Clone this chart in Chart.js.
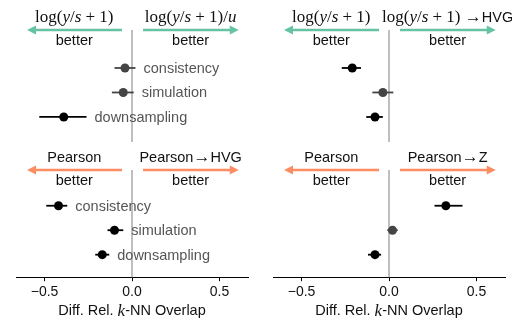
<!DOCTYPE html>
<html>
<head>
<meta charset="utf-8">
<script src="https://cdn.jsdelivr.net/npm/chart.js@4.4.1/dist/chart.umd.min.js"></script>
<style>
  body { margin: 0; background: #fff; }
  #wrap { position: relative; width: 512px; height: 320px; }
  canvas { position: absolute; }
</style>
</head>
<body>
<div id="wrap">
  <canvas id="tl" width="256" height="145" style="left:0;top:0"></canvas>
  <canvas id="tr" width="256" height="145" style="left:256px;top:0"></canvas>
  <canvas id="bl" width="256" height="175" style="left:0;top:145px"></canvas>
  <canvas id="br" width="256" height="175" style="left:256px;top:145px"></canvas>
</div>
<script>
// datasets: one row per benchmark
const rows = ['consistency', 'simulation', 'downsampling'];
const xTicks = [-0.5, 0, 0.5];

// log(y/s+1) vs log(y/s+1)/u
const tlMean = [-0.04, -0.05, -0.39];
const tlLo = [-0.10, -0.115, -0.53];
const tlHi = [0.02, 0.01, -0.26];
const tlSig = [false, false, true];

// log(y/s+1) vs log(y/s+1) -> HVG
const trMean = [-0.21, -0.035, -0.08];
const trLo = [-0.27, -0.095, -0.13];
const trHi = [-0.16, 0.025, -0.035];
const trSig = [true, false, true];

// Pearson vs Pearson -> HVG
const blMean = [-0.42, -0.10, -0.17];
const blLo = [-0.49, -0.14, -0.21];
const blHi = [-0.37, -0.05, -0.13];
const blSig = [true, true, true];

// Pearson vs Pearson -> Z
const brMean = [0.325, 0.02, -0.08];
const brLo = [0.26, -0.01, -0.12];
const brHi = [0.42, 0.05, -0.045];
const brSig = [true, false, true];

const GREEN = '#66c2a5', ORANGE = '#fc8d62';
const SANS = '14.5px "Liberation Sans", Arial, sans-serif';
const SERIF = '17px "Liberation Serif", "DejaVu Serif", serif';
const ITAL = 'italic 17px "Liberation Serif", "DejaVu Serif", serif';

const logLab = [['log(', SERIF], ['y', ITAL], ['/', SERIF], ['s', ITAL], [' + 1)', SERIF]];
const logU = logLab.concat([['/', SERIF], ['u', ITAL]]);
const logHVG = logLab.concat([[' \u2192', SERIF], ['HVG', SANS]]);
const pear = [['Pearson', SANS]];
const pearHVG = [['Pearson', SANS], ['\u2192', SERIF], ['HVG', SANS]];
const pearZ = [['Pearson', SANS], ['\u2192', SERIF], ['Z', SANS]];
const better = [['better', SANS]];
const axisTitle = [['Diff. Rel. ', SANS], ['k', ITAL], ['-NN Overlap', SANS]];

function rich(ctx, segs, cx, cy, color) {
  let w = 0;
  segs.forEach(s => { ctx.font = s[1]; w += ctx.measureText(s[0]).width; });
  let x = cx - w / 2;
  ctx.fillStyle = color;
  ctx.textBaseline = 'middle';
  ctx.textAlign = 'left';
  segs.forEach(s => { ctx.font = s[1]; ctx.fillText(s[0], x, cy); x += ctx.measureText(s[0]).width; });
}

function arrow(ctx, x0, x1, y, color) {
  const dir = Math.sign(x1 - x0);
  ctx.strokeStyle = color; ctx.fillStyle = color; ctx.lineWidth = 2.5;
  ctx.beginPath(); ctx.moveTo(x0, y); ctx.lineTo(x1 - dir * 6, y); ctx.stroke();
  ctx.beginPath();
  ctx.moveTo(x1, y); ctx.lineTo(x1 - dir * 9, y - 4.5); ctx.lineTo(x1 - dir * 9, y + 4.5);
  ctx.closePath(); ctx.fill();
}

function makePanel(p) {
  const colors = p.sig.map(s => s ? '#000000' : '#444444');
  const plugin = {
    id: 'panel_' + p.id,
    beforeDatasetsDraw(chart) {
      const ctx = chart.ctx, xs = chart.scales.x, ys = chart.scales.y, a = chart.chartArea;
      ctx.save();
      ctx.strokeStyle = '#aaaaaa'; ctx.lineWidth = 1.5;
      ctx.beginPath(); ctx.moveTo(xs.getPixelForValue(0), a.top);
      ctx.lineTo(xs.getPixelForValue(0), a.bottom + (p.axis ? 0 : 2)); ctx.stroke();
      ctx.lineWidth = 1.8;
      rows.forEach((r, i) => {
        const y = ys.getPixelForValue(i);
        ctx.strokeStyle = colors[i];
        ctx.beginPath(); ctx.moveTo(xs.getPixelForValue(p.lo[i]), y);
        ctx.lineTo(xs.getPixelForValue(p.hi[i]), y); ctx.stroke();
      });
      ctx.restore();
    },
    afterDatasetsDraw(chart) {
      const ctx = chart.ctx, xs = chart.scales.x, ys = chart.scales.y, a = chart.chartArea;
      ctx.save();
      const ay = a.top;
      arrow(ctx, xs.getPixelForValue(-0.057), xs.getPixelForValue(-0.6), ay, p.color);
      arrow(ctx, xs.getPixelForValue(0.063), xs.getPixelForValue(0.61), ay, p.color);
      const lc = xs.getPixelForValue(-0.33), rc = xs.getPixelForValue(0.335);
      rich(ctx, p.left, lc, ay - 12, '#111');
      rich(ctx, p.right, rc, ay - 12, '#111');
      rich(ctx, better, lc, ay + 11, '#111');
      rich(ctx, better, rc, ay + 11, '#111');
      if (p.names) {
        ctx.font = SANS; ctx.fillStyle = '#555555';
        ctx.textBaseline = 'middle'; ctx.textAlign = 'left';
        rows.forEach((r, i) => ctx.fillText(r, xs.getPixelForValue(p.hi[i]) + 8, ys.getPixelForValue(i) + 1));
      }
      if (p.axis) rich(ctx, axisTitle, (a.left + a.right) / 2, a.bottom + 34, '#111');
      ctx.restore();
    }
  };
  new Chart(document.getElementById(p.id), {
    type: 'scatter',
    data: {
      datasets: [{
        data: p.mean.map((m, i) => ({ x: m, y: i })),
        pointRadius: 4.5, pointHoverRadius: 4.5,
        pointBackgroundColor: colors, pointBorderColor: colors, pointBorderWidth: 0,
        clip: false
      }]
    },
    options: {
      responsive: false, animation: false, events: [],
      layout: { padding: p.pad },
      plugins: { legend: { display: false }, tooltip: { enabled: false } },
      scales: {
        x: {
          type: 'linear', min: -0.663, max: 0.663, display: p.axis,
          afterBuildTicks: s => { s.ticks = xTicks.map(v => ({ value: v })); },
          ticks: {
            font: { family: '"Liberation Sans", Arial, sans-serif', size: 14 }, color: '#111', padding: 3,
            callback: v => (v < 0 ? '\u2212' : '') + Math.abs(v).toFixed(1)
          },
          grid: { drawOnChartArea: false, drawTicks: true, tickLength: 4, color: '#000' },
          border: { display: true, color: '#000', width: 1 }
        },
        y: { type: 'linear', display: false, reverse: true, min: p.ymin, max: p.ymax }
      }
    },
    plugins: [plugin]
  });
}

makePanel({ id: 'tl', mean: tlMean, lo: tlLo, hi: tlHi, sig: tlSig, color: GREEN, left: logLab, right: logU,
  names: true, axis: false, ymin: -1.55, ymax: 2.94, pad: { left: 16, right: 8, top: 30, bottom: 5 } });
makePanel({ id: 'tr', mean: trMean, lo: trLo, hi: trHi, sig: trSig, color: GREEN, left: logLab, right: logHVG,
  names: false, axis: false, ymin: -1.55, ymax: 2.94, pad: { left: 17, right: 7, top: 30, bottom: 5 } });
makePanel({ id: 'bl', mean: blMean, lo: blLo, hi: blHi, sig: blSig, color: ORANGE, left: pear, right: pearHVG,
  names: true, axis: true, ymin: -1.46, ymax: 2.92, pad: { left: 16, right: 8, top: 25, bottom: 16 } });
makePanel({ id: 'br', mean: brMean, lo: brLo, hi: brHi, sig: brSig, color: ORANGE, left: pear, right: pearZ,
  names: false, axis: true, ymin: -1.46, ymax: 2.92, pad: { left: 17, right: 7, top: 25, bottom: 16 } });
</script>
</body>
</html>
